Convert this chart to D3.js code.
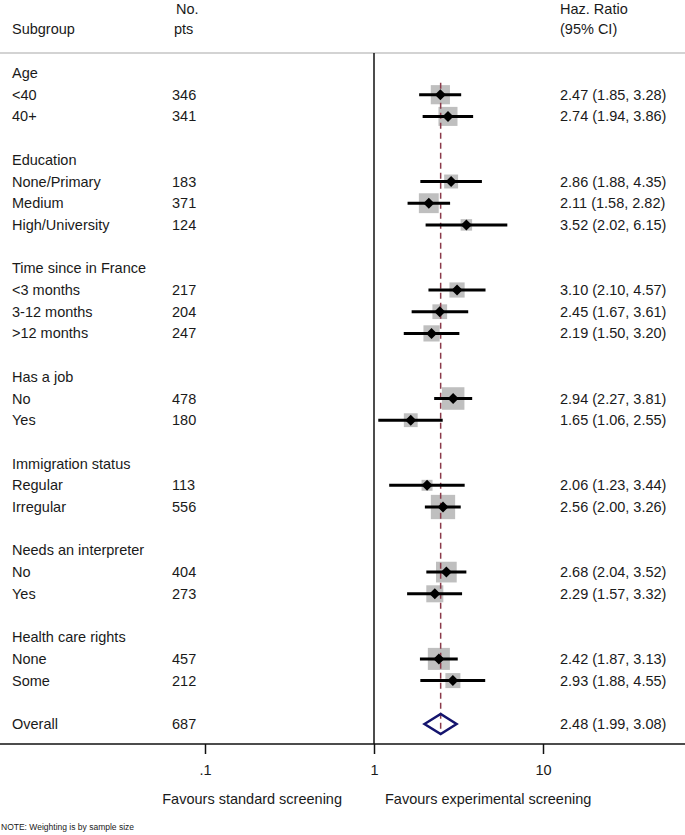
<!DOCTYPE html>
<html>
<head>
<meta charset="utf-8">
<script src="https://cdn.jsdelivr.net/npm/d3@7"></script>
<style>
  html, body { margin: 0; padding: 0; background: #fff; }
  svg { display: block; }
  text { font-family: "Liberation Sans", Arial, Helvetica, sans-serif; fill: #1a1a1a; }
</style>
</head>
<body>
<svg id="chart" width="685" height="835"></svg>
<script>
// ---- data ----
const labels = ["Age", "<40", "40+", "",
  "Education", "None/Primary", "Medium", "High/University", "",
  "Time since in France", "<3 months", "3-12 months", ">12 months", "",
  "Has a job", "No", "Yes", "",
  "Immigration status", "Regular", "Irregular", "",
  "Needs an interpreter", "No", "Yes", "",
  "Health care rights", "None", "Some", "",
  "Overall"];
const nPts = [null, 346, 341, null,
  null, 183, 371, 124, null,
  null, 217, 204, 247, null,
  null, 478, 180, null,
  null, 113, 556, null,
  null, 404, 273, null,
  null, 457, 212, null,
  687];
const hrVal = [null, 2.47, 2.74, null,
  null, 2.86, 2.11, 3.52, null,
  null, 3.10, 2.45, 2.19, null,
  null, 2.94, 1.65, null,
  null, 2.06, 2.56, null,
  null, 2.68, 2.29, null,
  null, 2.42, 2.93, null,
  2.48];
const ciLow = [null, 1.85, 1.94, null,
  null, 1.88, 1.58, 2.02, null,
  null, 2.10, 1.67, 1.50, null,
  null, 2.27, 1.06, null,
  null, 1.23, 2.00, null,
  null, 2.04, 1.57, null,
  null, 1.87, 1.88, null,
  1.99];
const ciHigh = [null, 3.28, 3.86, null,
  null, 4.35, 2.82, 6.15, null,
  null, 4.57, 3.61, 3.20, null,
  null, 3.81, 2.55, null,
  null, 3.44, 3.26, null,
  null, 3.52, 3.32, null,
  null, 3.13, 4.55, null,
  3.08];
const tickVals = [0.1, 1, 10];
const tickLabels = [".1", "1", "10"];

const overallIdx = labels.length - 1;
const fmt = d3.format(".2f");

// ---- scales ----
const svg = d3.select("#chart");
const W = 685;
const x = d3.scaleLog().domain([0.1, 10]).range([205, 543]);
const y = d3.scaleLinear().domain([0, overallIdx]).range([73, 724]);
const sq = d3.scaleSqrt().domain([0, 556]).range([0, 24.3]);

const fs = 14.5;

// header
svg.append("text").attr("x", 12).attr("y", 29).attr("dy", "0.35em").style("font-size", fs + "px").text("Subgroup");
svg.append("text").attr("x", 176).attr("y", 9).attr("dy", "0.35em").style("font-size", fs + "px").text("No.");
svg.append("text").attr("x", 174).attr("y", 29).attr("dy", "0.35em").style("font-size", fs + "px").text("pts");
svg.append("text").attr("x", 560).attr("y", 9).attr("dy", "0.35em").style("font-size", fs + "px").text("Haz. Ratio");
svg.append("text").attr("x", 560).attr("y", 29).attr("dy", "0.35em").style("font-size", fs + "px").text("(95% CI)");

// header rule
svg.append("line").attr("x1", 0).attr("x2", W).attr("y1", 53).attr("y2", 53)
  .attr("stroke", "#c4c4c4").attr("stroke-width", 1.5);

// axis
const axisY = 744;
svg.append("line").attr("x1", 0).attr("x2", W).attr("y1", axisY).attr("y2", axisY)
  .attr("stroke", "#111").attr("stroke-width", 1.5);
const axis = d3.axisBottom(x).tickValues(tickVals)
  .tickFormat((d, i) => tickLabels[i]).tickSize(10).tickPadding(11);
const gAxis = svg.append("g").attr("transform", `translate(0,${axisY})`).call(axis);
gAxis.select(".domain").remove();
gAxis.selectAll(".tick line").attr("stroke", "#111").attr("stroke-width", 1.5);
gAxis.selectAll(".tick text").style("font-size", fs + "px").style("font-family", "'Liberation Sans', Arial, sans-serif").attr("fill", "#1a1a1a");

// null line
svg.append("line").attr("x1", x(1)).attr("x2", x(1)).attr("y1", 53).attr("y2", axisY)
  .attr("stroke", "#111").attr("stroke-width", 1.5);

const idx = d3.range(labels.length);
const studies = idx.filter(i => hrVal[i] != null && i !== overallIdx);

// labels
svg.append("g").selectAll("text").data(idx.filter(i => labels[i] !== "")).join("text")
  .attr("x", 12).attr("y", i => y(i)).attr("dy", "0.35em").style("font-size", fs + "px")
  .text(i => labels[i]);
svg.append("g").selectAll("text").data(idx.filter(i => nPts[i] != null)).join("text")
  .attr("x", 172).attr("y", i => y(i)).attr("dy", "0.35em").style("font-size", fs + "px")
  .text(i => nPts[i]);
svg.append("g").selectAll("text").data(idx.filter(i => hrVal[i] != null)).join("text")
  .attr("x", 560).attr("y", i => y(i)).attr("dy", "0.35em").style("font-size", fs + "px")
  .text(i => `${fmt(hrVal[i])} (${fmt(ciLow[i])}, ${fmt(ciHigh[i])})`);

// squares
svg.append("g").selectAll("rect").data(studies).join("rect")
  .attr("x", i => x(hrVal[i]) - sq(nPts[i]) / 2)
  .attr("y", i => y(i) - sq(nPts[i]) / 2)
  .attr("width", i => sq(nPts[i])).attr("height", i => sq(nPts[i]))
  .attr("fill", "#bfbfbf");

// dashed overall line (visible through squares)
svg.append("line").attr("x1", x(hrVal[overallIdx])).attr("x2", x(hrVal[overallIdx]))
  .attr("y1", y(1) - 12).attr("y2", y(overallIdx) + 10)
  .attr("stroke", "#8a3a4a").attr("stroke-width", 1.5).attr("stroke-dasharray", "6,4");

// CI lines
svg.append("g").selectAll("line").data(studies).join("line")
  .attr("x1", i => x(ciLow[i])).attr("x2", i => x(ciHigh[i]))
  .attr("y1", i => y(i)).attr("y2", i => y(i))
  .attr("stroke", "#000").attr("stroke-width", 3);

// point diamonds
const dR = 5.5;
svg.append("g").selectAll("path").data(studies).join("path")
  .attr("d", i => {
    const cx = x(hrVal[i]), cy = y(i);
    return `M${cx - dR},${cy}L${cx},${cy - dR}L${cx + dR},${cy}L${cx},${cy + dR}Z`;
  })
  .attr("fill", "#000");

// overall diamond
{
  const i = overallIdx, cy = y(i);
  svg.append("path")
    .attr("d", `M${x(ciLow[i])},${cy}L${x(hrVal[i])},${cy - 10}L${x(ciHigh[i])},${cy}L${x(hrVal[i])},${cy + 10}Z`)
    .attr("fill", "none").attr("stroke", "#14146e").attr("stroke-width", 2.5);
}

// favours labels
svg.append("text").attr("x", 342).attr("y", 799).attr("dy", "0.35em").attr("text-anchor", "end")
  .style("font-size", fs + "px").text("Favours standard screening");
svg.append("text").attr("x", 385).attr("y", 799).attr("dy", "0.35em")
  .style("font-size", fs + "px").text("Favours experimental screening");

// note
svg.append("text").attr("x", 1).attr("y", 827).attr("dy", "0.35em")
  .style("font-size", "8.5px").text("NOTE: Weighting is by sample size");
</script>
</body>
</html>
